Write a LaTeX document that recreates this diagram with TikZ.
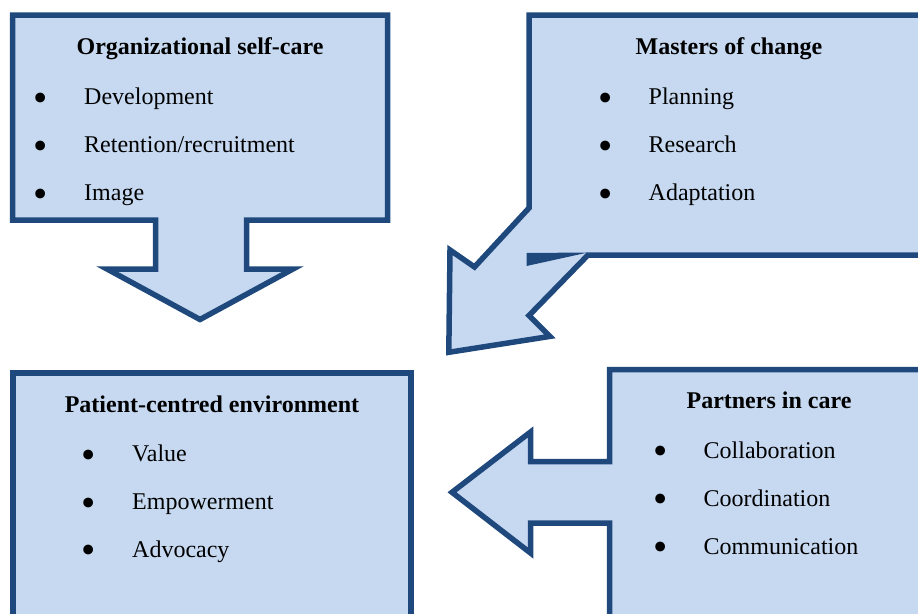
\documentclass[tikz,border=0pt]{standalone}
\usepackage{fontspec}
\setmainfont{Liberation Serif}
\definecolor{calloutfill}{RGB}{198,217,241}
\definecolor{calloutline}{RGB}{31,73,125}
\newcommand{\boxfont}{\fontsize{24}{28}\selectfont}
\newcommand{\bigbullet}{\makebox[0pt]{\raisebox{-6.7pt}{\scalebox{1.7}{\textbullet}}}}
\tikzset{
	callout/.style={draw=calloutline, fill=calloutfill, line width=5.5pt, line join=miter},
	heading/.style={anchor=base, inner sep=0pt, font=\boxfont\bfseries},
	item/.style={anchor=base west, inner sep=0pt, font=\boxfont,
		execute at begin node={\bigbullet\hspace{43.5pt}}}
}
\begin{document}
\begin{tikzpicture}[x=1pt, y=-1pt, line cap=butt]
		\clip (0,0) rectangle (918,613);
		% Organizational self-care (arrow down)
		\draw[callout] (12.5,15)--(387.5,15)--(387.5,220)--(246.5,220)--(246.5,269)--(293,269)
			--(200,319.5)--(107,269)--(155.5,269)--(155.5,220)--(12.5,220)--cycle;
		% Masters of change (arrow down left)
		\draw[callout] (529,15)--(930,15)--(930,255)--(588,255)--(529,315.5)--(549.9,336.4)
			--(448.8,352.3)--(450,250)--(474.5,267)--(529,208)--cycle;
		\fill[calloutline] (526.5,253)--(588,252.5)--(526.5,266)--cycle;
		% Patient-centred environment
		\draw[callout] (13,373) rectangle (411,630);
		% Partners in care (arrow left)
		\draw[callout] (609.7,369.7)--(930,369.7)--(930,630)--(609.7,630)--(609.7,523)--(530.5,523)
			--(530.5,553)--(452,492.3)--(530.5,432)--(530.5,461.7)--(609.7,461.7)--cycle;
		% texts
		\node (selfcare) [heading] at (200,54) {Organizational self-care};
		\node (selfcare-a) [item] at (40.5,104.5) {Development};
		\node (selfcare-b) [item] at (40.5,152.5) {Retention/recruitment};
		\node (selfcare-c) [item] at (40.5,200.5) {Image};
		\node (change) [heading] at (729,54) {Masters of change};
		\node (change-a) [item] at (605,104.5) {Planning};
		\node (change-b) [item] at (605,152.5) {Research};
		\node (change-c) [item] at (605,200.5) {Adaptation};
		\node (patient) [heading] at (212,412) {Patient-centred environment};
		\node (patient-a) [item] at (88.5,461.5) {Value};
		\node (patient-b) [item] at (88.5,509.5) {Empowerment};
		\node (patient-c) [item] at (88.5,557) {Advocacy};
		\node (partners) [heading] at (769,408) {Partners in care};
		\node (partners-a) [item] at (660,458) {Collaboration};
		\node (partners-b) [item] at (660,506) {Coordination};
		\node (partners-c) [item] at (660,554) {Communication};
\end{tikzpicture}
\end{document}
